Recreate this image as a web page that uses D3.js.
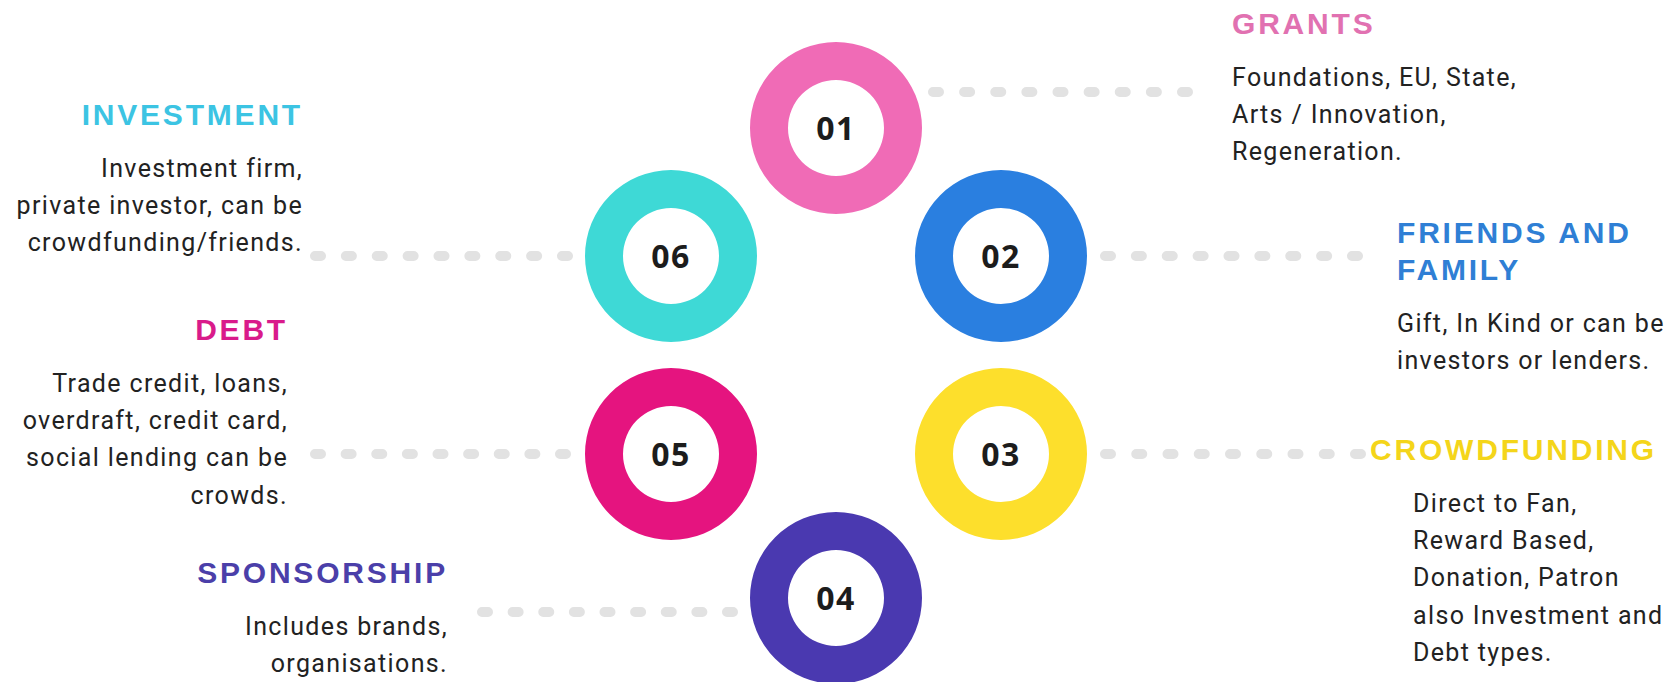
<!DOCTYPE html>
<html>
<head>
<meta charset="utf-8">
<script src="https://cdn.jsdelivr.net/npm/d3@7"></script>
<style>
  body { margin: 0; background: #fff; }
  .title { font-family: "Liberation Sans", Arial, sans-serif; font-weight: 700; font-size: 30px; letter-spacing: 2.8px; }
  .desc { font-family: Roboto, sans-serif; font-size: 25px; letter-spacing: 1.35px; fill: #222; }
  .num { font-family: "Open Sans", sans-serif; font-weight: 700; font-size: 32px; letter-spacing: 1.5px; fill: #1c1c1c; }
</style>
</head>
<body>
<div id="chart"></div>
<script>
/* six funding sources arranged around a ring */

let width = 1674,
    height = 682;

// data
const numbers = ["01", "02", "03", "04", "05", "06"];
const titles = [
  ["GRANTS"],
  ["FRIENDS AND", "FAMILY"],
  ["CROWDFUNDING"],
  ["SPONSORSHIP"],
  ["DEBT"],
  ["INVESTMENT"]
];
const descriptions = [
  ["Foundations, EU, State,", "Arts / Innovation,", "Regeneration."],
  ["Gift, In Kind or can be", "investors or lenders."],
  ["Direct to Fan,", "Reward Based,", "Donation, Patron", "also Investment and", "Debt types."],
  ["Includes brands,", "organisations."],
  ["Trade credit, loans,", "overdraft, credit card,", "social lending can be", "crowds."],
  ["Investment firm,", "private investor, can be", "crowdfunding/friends."]
];

// styles / layout
const ringColors = ["#f06bb6", "#2a7fe0", "#fddf2c", "#4a39b0", "#e5147f", "#3ed9d6"];
const titleColors = ["#e171b1", "#2f7fd5", "#f4d51a", "#4b3fa9", "#d91b8b", "#3cc4e3"];
const column = ["mid", "right", "right", "mid", "left", "left"];
const row = [0, 1, 2, 3, 2, 1];

// layout per item: connector y, connector x-range, text anchor x, first title baseline, side
const labels = [
  { cy: 92,  cx: [928, 1193],  tx: 1232, ty: 34,  side: "start", dx: 0 },
  { cy: 256, cx: [1100, 1363], tx: 1397, ty: 243, side: "start", dx: 0 },
  { cy: 454, cx: [1100, 1366], tx: 1370, ty: 460, side: "start", dx: 43 },
  { cy: 612, cx: [477, 738],   tx: 448,  ty: 583, side: "end",   dx: 0 },
  { cy: 454, cx: [310, 571],   tx: 288,  ty: 340, side: "end",   dx: 0 },
  { cy: 256, cx: [310, 573],   tx: 303,  ty: 125, side: "end",   dx: 0 }
];

const svg = d3.select("#chart")
  .append("svg")
  .attr("width", width)
  .attr("height", height)
  .attr("viewBox", [0, 0, width, height]);

let x = d3.scalePoint()
  .domain(["left", "mid", "right"])
  .range([671, 1001]);

let y = d3.scaleOrdinal()
  .domain([0, 1, 2, 3])
  .range([128, 256, 454, 598]);

let color = d3.scaleOrdinal().domain(numbers).range(ringColors);
let titleColor = d3.scaleOrdinal().domain(numbers).range(titleColors);

let rOuter = 86,
    rInner = 48;

let arc = d3.arc()
  .innerRadius(rInner)
  .outerRadius(rOuter)
  .startAngle(0)
  .endAngle(2 * Math.PI);

// connectors first so rings sit on top: 9 rounded dashes each
let dashes = 9,
    dashLen = 6,
    cap = 5;

numbers.forEach((n, i) => {
  let l = labels[i];
  let x1 = l.cx[0] + cap,
      x2 = l.cx[1] - cap;
  let period = (x2 - x1 - dashLen) / (dashes - 1);
  svg.append("line")
    .attr("x1", x1)
    .attr("x2", x2 + 0.5)
    .attr("y1", l.cy)
    .attr("y2", l.cy)
    .attr("stroke", "#e2e2e2")
    .attr("stroke-width", cap * 2)
    .attr("stroke-linecap", "round")
    .attr("stroke-dasharray", `${dashLen} ${period - dashLen}`);
});

numbers.forEach((n, i) => {
  let g = svg.append("g")
    .attr("transform", `translate(${x(column[i])},${y(row[i])})`);

  g.append("path")
    .attr("d", arc)
    .attr("fill", color(n));

  g.append("text")
    .attr("class", "num")
    .attr("text-anchor", "middle")
    .attr("dy", "0.36em")
    .text(n);

  let l = labels[i];
  let t = svg.append("g").attr("text-anchor", l.side);

  titles[i].forEach((line, k) => {
    t.append("text")
      .attr("class", "title")
      .attr("x", l.tx)
      .attr("y", l.ty + k * 37)
      .attr("fill", titleColor(n))
      .text(line);
  });

  let descTop = l.ty + (titles[i].length - 1) * 37 + 52;
  descriptions[i].forEach((line, k) => {
    t.append("text")
      .attr("class", "desc")
      .attr("x", l.tx + l.dx)
      .attr("y", descTop + k * 37.2)
      .text(line);
  });
});
</script>
</body>
</html>
